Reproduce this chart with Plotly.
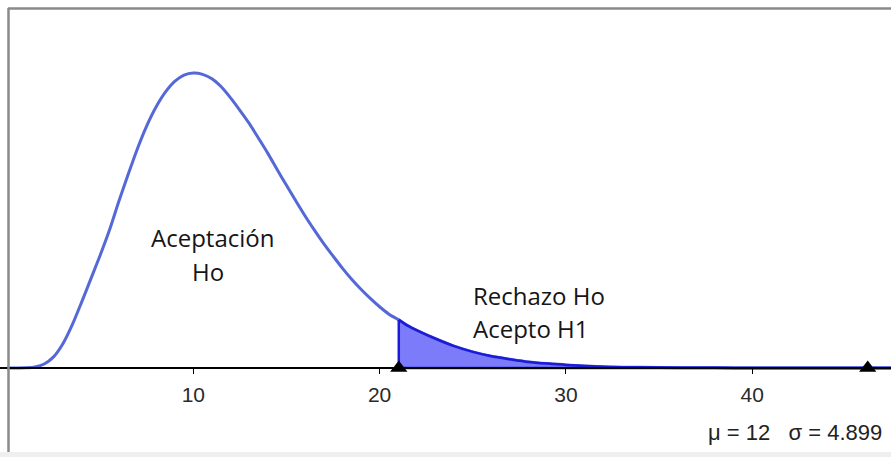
import plotly.graph_objects as go

# Density curve (chi-square shaped, mu=12, sigma=4.899)
curve_x = [0, 0.5, 1, 1.5, 2, 2.5, 3, 3.5, 4, 4.5, 5, 5.5, 6, 6.5, 7, 7.5, 8, 8.5, 9, 9.5,
           10, 10.5, 11, 11.5, 12, 12.5, 13, 13.5, 14, 14.5, 15, 15.5, 16, 16.5, 17, 17.5,
           18, 18.5, 19, 19.5, 20, 20.5, 21.03, 21.5, 22, 23, 24, 25, 26, 27, 28, 29, 30,
           32, 34, 36, 38, 40, 43, 47.5]
curve_y = [0.0, 0.0, 0.00005, 0.0003, 0.0012, 0.0033, 0.0072, 0.0128, 0.0195, 0.0265,
           0.0335, 0.0410, 0.0495, 0.0575, 0.0652, 0.0720, 0.0776, 0.0820, 0.0852, 0.0871,
           0.0877, 0.0873, 0.0860, 0.0836, 0.0803, 0.0766, 0.0727, 0.0683, 0.0638, 0.0590,
           0.0543, 0.0497, 0.0452, 0.0410, 0.0370, 0.0333, 0.0297, 0.0264, 0.0234, 0.0207,
           0.0182, 0.0160, 0.0143, 0.0126, 0.0112, 0.0087, 0.0065, 0.0048, 0.0035, 0.0026,
           0.0018, 0.0013, 0.0009, 0.0004, 0.0002, 0.0001, 0.00004, 0.00002, 0.0, 0.0]

critical_value = 21.03
upper_marker = 46.2
tick_vals = [10, 20, 30, 40]
tick_text = ["10", "20", "30", "40"]
label_accept = ["Aceptación", "Ho"]
label_reject = ["Rechazo Ho", "Acepto H1"]
stats_text = "μ = 12\u00a0\u00a0\u00a0σ = 4.899"

tail_x = [x for x in curve_x if x >= critical_value]
tail_y = [y for x, y in zip(curve_x, curve_y) if x >= critical_value]

fig = go.Figure()
fig.add_trace(go.Scatter(x=curve_x, y=curve_y, mode="lines",
                         line=dict(color="#5468d8", width=3, shape="spline", smoothing=0.8),
                         hoverinfo="skip"))
fig.add_trace(go.Scatter(x=tail_x, y=tail_y, mode="lines", fill="tozeroy",
                         fillcolor="rgba(110,110,250,0.9)",
                         line=dict(color="#1c1cd6", width=2.5, shape="spline", smoothing=0.8),
                         hoverinfo="skip"))
fig.add_trace(go.Scatter(x=[critical_value, critical_value, tail_x[-1]],
                         y=[tail_y[0], 0, 0], mode="lines",
                         line=dict(color="#1c1cd6", width=2.5), hoverinfo="skip"))
fig.add_trace(go.Scatter(x=[critical_value, upper_marker], y=[0, 0], mode="markers",
                         marker=dict(symbol="triangle-up", size=15, color="black"),
                         hoverinfo="skip"))

ymin, ymax = -0.02646, 0.1094
xmin, xmax = -0.376, 47.45
pos0 = (0 - ymin) / (ymax - ymin)


def ypx(py):
    return (368 - py) / 3363


def xpx(px):
    return (px - 7) / 18.63


fig.update_layout(
    width=891, height=457,
    margin=dict(l=0, r=0, t=0, b=0),
    paper_bgcolor="white", plot_bgcolor="white",
    showlegend=False,
    xaxis=dict(range=[xmin, xmax], showgrid=False, zeroline=False,
               showline=True, linecolor="black", linewidth=1.5,
               anchor="free", position=pos0,
               ticks="outside", ticklen=5, tickcolor="black", tickwidth=1,
               tickvals=tick_vals, ticktext=tick_text, ticklabelstandoff=3,
               tickfont=dict(family="Liberation Sans, Arial", size=21, color="#2a2a2a")),
    yaxis=dict(range=[ymin, ymax], visible=False, showgrid=False, zeroline=False),
    font=dict(family="Open Sans", color="#1a1a1a"),
)

lab_font = dict(size=24, family="Open Sans", color="#151515")
fig.add_annotation(x=xpx(212.5), y=ypx(238), text=label_accept[0], showarrow=False,
                   xanchor="center", yanchor="middle", font=lab_font)
fig.add_annotation(x=xpx(208), y=ypx(272), text=label_accept[1], showarrow=False,
                   xanchor="center", yanchor="middle", font=lab_font)
fig.add_annotation(x=xpx(471), y=ypx(296), text=label_reject[0], showarrow=False,
                   xanchor="left", yanchor="middle", font=lab_font)
fig.add_annotation(x=xpx(471), y=ypx(329), text=label_reject[1], showarrow=False,
                   xanchor="left", yanchor="middle", font=lab_font)
fig.add_annotation(x=xpx(884), y=ypx(432), text=stats_text, showarrow=False,
                   xanchor="right", yanchor="middle",
                   font=dict(size=22, family="Liberation Sans, Arial", color="#222222"))

# frame: top and left grey border, bottom light band
fig.add_shape(type="line", xref="paper", yref="paper", x0=8 / 891, x1=1, y0=1 - 8.5 / 457, y1=1 - 8.5 / 457,
              line=dict(color="#8a8a8a", width=2.5))
fig.add_shape(type="line", xref="paper", yref="paper", x0=8.5 / 891, x1=8.5 / 891, y0=5 / 457, y1=1 - 8 / 457,
              line=dict(color="#8a8a8a", width=2.5))
fig.add_shape(type="rect", xref="paper", yref="paper", x0=0, x1=1, y0=0, y1=5 / 457,
              line=dict(width=0), fillcolor="#efefef")

fig.write_html("out.html", config={"displayModeBar": False},
               post_script="document.body.style.margin='0px';document.body.style.overflow='hidden';")
